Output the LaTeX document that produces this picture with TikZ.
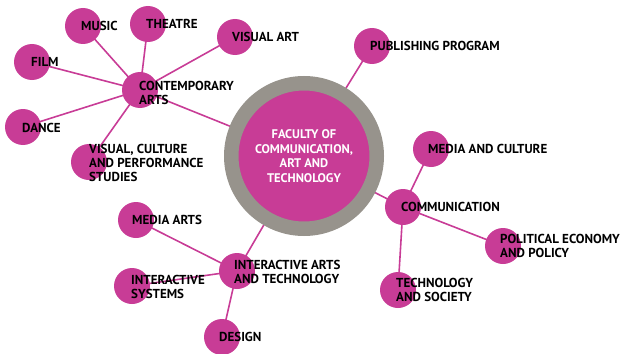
\documentclass[tikz,border=0pt]{standalone}
\usepackage{fontspec}
\setmainfont{PT Sans}
\usepackage{tikz}
\usetikzlibrary{shapes,backgrounds}
\definecolor{mag}{rgb}{0.784, 0.235, 0.588}
\definecolor{ring}{rgb}{0.592, 0.576, 0.549}
\tikzstyle{dot}=[circle,fill=mag,inner sep=0pt,minimum size=36pt]
\tikzstyle{lab}=[anchor=west,inner sep=0pt,align=left,font=\fontsize{13}{14}\selectfont\bfseries]
\tikzstyle{link}=[mag,line width=1.6pt]

\begin{document}
\begin{tikzpicture}[x=1pt,y=-1pt]
\useasboundingbox (0,0) rectangle (620,353);
\node[circle,fill=mag,draw=ring,line width=14.5pt,minimum size=145.5pt,inner sep=0pt,text=white,align=center,font=\fontsize{12.5}{14.7}\selectfont\bfseries] (fac) at (304,156) {FACULTY OF\\COMMUNICATION,\\ART AND\\TECHNOLOGY};
\node[dot] (ca) at (140,90) {};
\node[dot] (mus) at (83,26) {};
\node[dot] (the) at (148,24) {};
\node[dot] (va) at (235,37) {};
\node[dot] (film) at (32,62) {};
\node[dot] (dan) at (23,127) {};
\node[dot] (vcp) at (89,162) {};
\node[dot] (pub) at (372,46) {};
\node[dot] (com) at (403,207) {};
\node[dot] (mc) at (431,149) {};
\node[dot] (pep) at (503,246) {};
\node[dot] (ts) at (398,290) {};
\node[dot] (iat) at (237,271) {};
\node[dot] (ma) at (136,220) {};
\node[dot] (is) at (132,286) {};
\node[dot] (des) at (222,337) {};
\node[lab] (l-ca) at (139,93) {CONTEMPORARY\\ARTS};
\node[lab] (l-mus) at (81,26) {MUSIC};
\node[lab] (l-the) at (146,24) {THEATRE};
\node[lab] (l-va) at (232,37) {VISUAL ART};
\node[lab] (l-film) at (31,62) {FILM};
\node[lab] (l-dan) at (22,128) {DANCE};
\node[lab] (l-vcp) at (89,163) {VISUAL, CULTURE\\AND PERFORMANCE\\STUDIES};
\node[lab] (l-pub) at (370,46) {PUBLISHING PROGRAM};
\node[lab] (l-com) at (401,207) {COMMUNICATION};
\node[lab] (l-mc) at (428,149) {MEDIA AND CULTURE};
\node[lab] (l-pep) at (500,246) {POLITICAL ECONOMY\\AND POLICY};
\node[lab] (l-ts) at (396,290) {TECHNOLOGY\\AND SOCIETY};
\node[lab] (l-iat) at (234,272) {INTERACTIVE ARTS\\AND TECHNOLOGY};
\node[lab] (l-ma) at (132,220) {MEDIA ARTS};
\node[lab] (l-is) at (131,287) {INTERACTIVE\\SYSTEMS};
\node[lab] (l-des) at (219,337) {DESIGN};
\begin{pgfonlayer}{background}
\draw[link] (fac.center) -- (ca.center);
\draw[link] (fac.center) -- (pub.center);
\draw[link] (fac.center) -- (com.center);
\draw[link] (fac.center) -- (iat.center);
\foreach \x in {mus,the,va,film,dan,vcp}
  \draw[link] (ca.center) -- (\x.center);
\foreach \x in {mc,pep,ts}
  \draw[link] (com.center) -- (\x.center);
\foreach \x in {ma,is,des}
  \draw[link] (iat.center) -- (\x.center);
\end{pgfonlayer}
\end{tikzpicture}
\end{document}
